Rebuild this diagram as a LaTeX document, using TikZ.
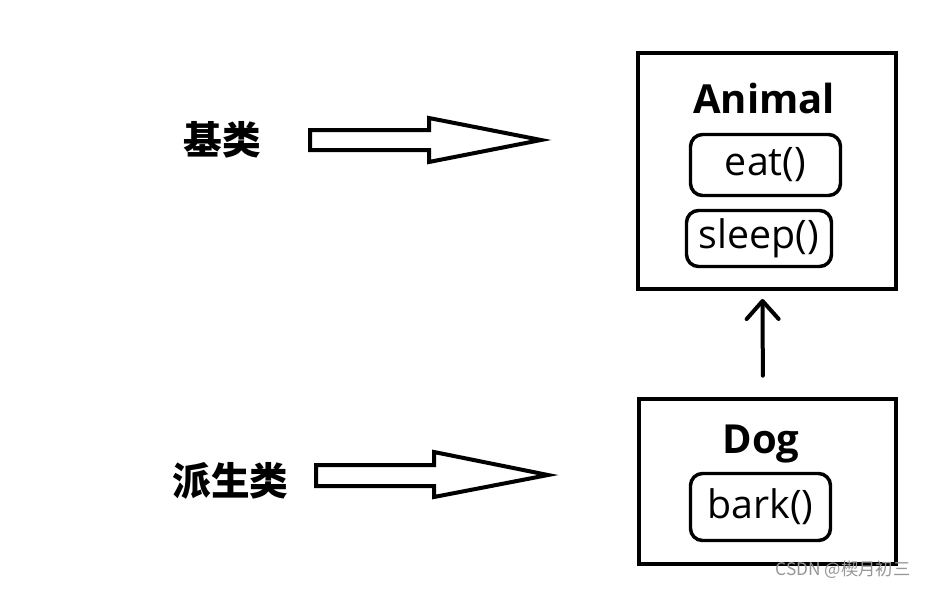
\documentclass[tikz,border=0pt]{standalone}
\usepackage{fontspec}
\setmainfont{Open Sans}
\newfontfamily\cjk{Noto Sans CJK SC}
\usetikzlibrary{arrows.meta}

\tikzset{
  classbox/.style={draw, line width=3pt, inner sep=0pt},
  classname/.style={font=\fontsize{30}{36}\selectfont\bfseries, anchor=base},
  method/.style={draw, line width=2.6pt, rounded corners=9pt, inner sep=0pt,
    font=\fontsize{29.5}{34}\selectfont},
  catname/.style={font=\cjk\bfseries\fontsize{29}{34}\selectfont},
  bigarrow/.style={line width=3pt, line join=miter},
  inherit/.style={line width=3pt, line cap=round,
    -{Straight Barb[length=13.5pt,width=24pt,round]}}
}

\begin{document}
\begin{tikzpicture}[x=0.75pt,y=-0.75pt]
  \useasboundingbox (0,0) rectangle (927,589);

  \node[catname] (base) at (222,140) {基类};
  \node[catname] (derived) at (230.5,480.5) {派生类};

  \draw[bigarrow] (310,130) -- (429,130) -- (429,118) -- (541,140)
    -- (429,162) -- (429,150) -- (310,150) -- cycle;
  \draw[bigarrow] (316,465) -- (434,465) -- (434,452) -- (548,475)
    -- (434,497) -- (434,486) -- (316,486) -- cycle;

  \node[classbox, minimum width=193.5pt, minimum height=177pt] (animal) at (767,171) {};
  \node[classname] (animaltitle) at (764,113) {Animal};
  \node[method, minimum width=112.5pt, minimum height=45.75pt] (eat) at (765.5,165) {eat()};
  \node[method, minimum width=108.75pt, minimum height=42pt] (sleep) at (759,238.5) {sleep()};

  \node[classbox, minimum width=192.75pt, minimum height=123.75pt] (dog) at (767.5,481.5) {};
  \node[classname] (dogtitle) at (761,453) {Dog};
  \node[method, minimum width=105pt, minimum height=50.25pt] (bark) at (760.5,507) {bark()};

  \draw[inherit, shorten <=16pt, shorten >=6pt]
    ([xshift=-3.4pt]dog.north) -- ([xshift=-3.4pt]animal.south);

  \node[text={rgb,255:red,150;green,150;blue,150}, font=\cjk\fontsize{13}{15}\selectfont]
    (mark) at (843,570) {CSDN @楔月初三};
\end{tikzpicture}
\end{document}
